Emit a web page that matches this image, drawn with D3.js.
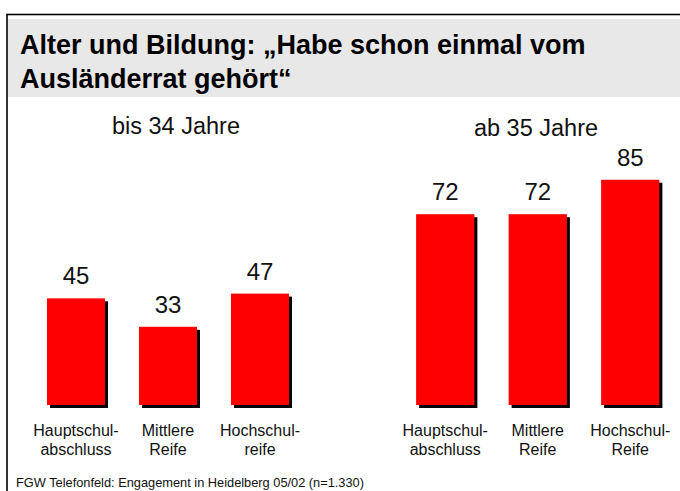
<!DOCTYPE html>
<html>
<head>
<meta charset="utf-8">
<script src="https://cdn.jsdelivr.net/npm/d3@7"></script>
<style>
  body { margin: 0; background: #fff; }
  svg { display: block; font-family: "Liberation Sans", Arial, sans-serif; }
</style>
</head>
<body>
<div id="chart"></div>
<script>
var titleLines = ["Alter und Bildung: \u201EHabe schon einmal vom", "Ausl\u00E4nderrat geh\u00F6rt\u201C"];
var groupNames = ["bis 34 Jahre", "ab 35 Jahre"];
var youngCats = ["Hauptschul-|abschluss", "Mittlere|Reife", "Hochschul-|reife"];
var oldCats = ["Hauptschul-|abschluss", "Mittlere|Reife", "Hochschul-|Reife"];
var youngValues = [45, 33, 47];
var oldValues = [72, 72, 85];
var footer = "FGW Telefonfeld: Engagement in Heidelberg 05/02 (n=1.330)";

var width = 680, height = 491;

var svg = d3.select("#chart")
  .append("svg")
  .attr("width", width)
  .attr("height", height);

// frame + title band
svg.append("rect")
  .attr("x", 7).attr("y", 14.5)
  .attr("width", 700).attr("height", 520)
  .attr("fill", "none")
  .attr("stroke", "#000")
  .attr("stroke-width", 1.6);

svg.append("rect")
  .attr("x", 8).attr("y", 19)
  .attr("width", 680).attr("height", 78)
  .attr("fill", "#e8e8e8");

svg.selectAll(".title")
  .data(titleLines)
  .enter()
  .append("text")
  .attr("class", "title")
  .attr("x", 20)
  .attr("y", function (d, i) { return 54 + i * 34; })
  .style("font-size", "27px")
  .style("font-weight", "bold")
  .attr("fill", "#000")
  .text(function (d) { return d; });

var baseY = 405;

function drawPanel(cats, values, label, x0, x1, labelX, labelY, top) {
  var data = cats.map(function (c, i) { return { cat: c, value: values[i] }; });

  var x = d3.scaleBand()
    .domain(cats)
    .range([x0, x1])
    .paddingInner(0.37)
    .paddingOuter(0.185);

  var y = d3.scaleLinear().domain([0, 100]).range([baseY, top]);

  var g = svg.append("g");

  g.append("text")
    .attr("x", labelX)
    .attr("y", labelY)
    .style("text-anchor", "middle")
    .style("font-size", "23.5px")
    .attr("fill", "#111")
    .text(label);

  // shadows
  g.selectAll(".shadow")
    .data(data)
    .enter()
    .append("rect")
    .attr("class", "shadow")
    .attr("x", function (d) { return x(d.cat) + 3; })
    .attr("y", function (d) { return y(d.value) + 3; })
    .attr("width", x.bandwidth())
    .attr("height", function (d) { return baseY - y(d.value); })
    .attr("fill", "#000");

  g.selectAll(".bar")
    .data(data)
    .enter()
    .append("rect")
    .attr("class", "bar")
    .attr("x", function (d) { return x(d.cat); })
    .attr("y", function (d) { return y(d.value); })
    .attr("width", x.bandwidth())
    .attr("height", function (d) { return baseY - y(d.value); })
    .attr("fill", "#ff0000");

  g.selectAll(".val")
    .data(data)
    .enter()
    .append("text")
    .attr("class", "val")
    .attr("x", function (d) { return x(d.cat) + x.bandwidth() / 2; })
    .attr("y", function (d) { return y(d.value) - 14; })
    .style("text-anchor", "middle")
    .style("font-size", "24px")
    .attr("fill", "#111")
    .text(function (d) { return d.value; });

  var cl = g.selectAll(".cat")
    .data(data)
    .enter()
    .append("text")
    .attr("class", "cat")
    .style("text-anchor", "middle")
    .style("font-size", "16px")
    .attr("fill", "#111");

  cl.selectAll("tspan")
    .data(function (d) {
      return d.cat.split("|").map(function (t) { return { t: t, cx: x(d.cat) + x.bandwidth() / 2 }; });
    })
    .enter()
    .append("tspan")
    .attr("x", function (d) { return d.cx; })
    .attr("y", function (d, i) { return 435.5 + i * 19.5; })
    .text(function (d) { return d.t; });
}

drawPanel(youngCats, youngValues, groupNames[0], 30, 306, 176, 134, 168);
drawPanel(oldCats, oldValues, groupNames[1], 399, 676.5, 536, 136, 140);

svg.append("text")
  .attr("x", 16)
  .attr("y", 487)
  .style("font-size", "12.8px")
  .attr("fill", "#111")
  .text(footer);
</script>
</body>
</html>
